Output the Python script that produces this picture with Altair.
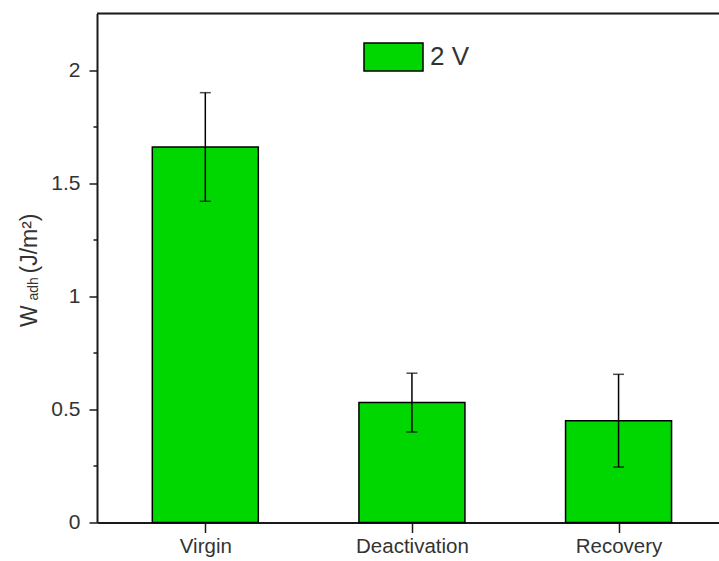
import altair as alt
import pandas as pd

categories = ["Virgin", "Deactivation", "Recovery"]
means = [1.66, 0.53, 0.45]
errors = [0.24, 0.13, 0.205]
series_name = "2 V"

y_major = [0, 0.5, 1, 1.5, 2]
y_minor = [0.25, 0.75, 1.25, 1.75]

df = pd.DataFrame({
    "idx": list(range(len(categories))),
    "cat": categories,
    "mean": means,
    "err": errors,
    "series": [series_name] * len(categories),
})
df["lo"] = df["mean"] - df["err"]
df["hi"] = df["mean"] + df["err"]

FONT = "Liberation Sans"
TXT = "#333333"
AX = "#1a1a1a"
W, H = 622, 509

label_expr = "[" + ",".join(f"'{c}'" for c in categories) + "][round(datum.value)]"
x_axis = alt.Axis(values=list(range(len(categories))), labelExpr=label_expr, title=None,
                  tickSize=10, tickWidth=1.5, tickColor=AX, domainColor=AX, domainWidth=2,
                  labelFontSize=20.5, labelColor=TXT, labelFont=FONT, labelPadding=4, grid=False)
x_scale = alt.Scale(domain=[-0.5, -0.5 + W / 210], nice=False, zero=False)
y_scale = alt.Scale(domain=[0, 2.25], nice=False)

y_axis_major = alt.Axis(values=y_major, format="~g", title=None, orient="left",
                        tickSize=8, tickWidth=1.5, tickColor=AX, domainColor=AX, domainWidth=2,
                        labelFontSize=21, labelColor=TXT, labelFont=FONT, labelPadding=9, grid=False)
y_axis_minor = alt.Axis(values=y_minor, title=None, orient="left", labels=False, domain=False,
                        tickSize=4, tickWidth=1.5, tickColor=AX, grid=False)

base = alt.Chart(df)

bars = base.mark_bar(size=106, stroke="black", strokeWidth=1.5).encode(
    x=alt.X("idx:Q", scale=x_scale, axis=x_axis),
    y=alt.Y("mean:Q", scale=y_scale, axis=y_axis_major),
    color=alt.Color("series:N",
                    scale=alt.Scale(domain=[series_name], range=["#00D700"]),
                    legend=alt.Legend(orient="none", legendX=266, legendY=13, title=None,
                                      symbolType="M-1,-0.475H1V0.475H-1Z", symbolSize=3481,
                                      symbolStrokeColor="black", symbolStrokeWidth=1.5,
                                      symbolOpacity=1, labelFontSize=26, labelFont=FONT,
                                      labelColor=TXT, labelOffset=6, padding=0)),
)

err_rule = base.mark_rule(color="black", strokeWidth=1.5).encode(
    x=alt.X("idx:Q", scale=x_scale, axis=x_axis),
    y=alt.Y("lo:Q", scale=y_scale, axis=None),
    y2="hi:Q",
)

caps = base.transform_fold(["lo", "hi"], as_=["which", "val"]).mark_tick(
    orient="horizontal", size=11, thickness=1.5, color="black"
).encode(
    x=alt.X("idx:Q", scale=x_scale, axis=x_axis),
    y=alt.Y("val:Q", scale=y_scale, axis=y_axis_minor),
)

one = alt.Data(values=[{"k": 1}])
top_line = alt.Chart(one).mark_rule(color=AX, strokeWidth=2).encode(
    x=alt.value(0), x2=alt.value(W), y=alt.value(0)
)

t_w = alt.Chart(one).mark_text(text="W", angle=270, align="left", baseline="alphabetic",
                              fontSize=23, font=FONT, color=TXT).encode(
    x=alt.value(-60), y=alt.value(313.5))
t_sub = alt.Chart(one).mark_text(text="adh", angle=270, align="left", baseline="alphabetic",
                                fontSize=14, font=FONT, color=TXT).encode(
    x=alt.value(-59), y=alt.value(287))
t_unit = alt.Chart(one).mark_text(text="(J/m²)", angle=270, align="left", baseline="alphabetic",
                                 fontSize=23, font=FONT, color=TXT).encode(
    x=alt.value(-60), y=alt.value(260))

chart = alt.layer(bars, err_rule, caps, top_line, t_w, t_sub, t_unit).resolve_axis(
    y="independent"
).properties(
    width=W, height=H,
    padding={"left": 97, "top": 13.5, "right": 0, "bottom": 38.5},
    autosize=alt.AutoSizeParams(type="none"),
).configure_view(stroke=None).configure(background="white")

chart.save("out.html", embed_options={"renderer": "svg", "actions": False})
